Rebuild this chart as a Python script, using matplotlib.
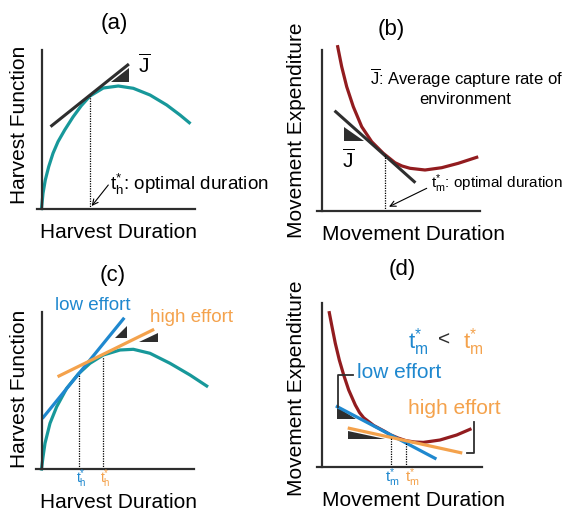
import matplotlib
matplotlib.use("Agg")
import matplotlib.pyplot as plt

plt.rcParams['font.family'] = ['Liberation Sans', 'DejaVu Sans']
plt.rcParams['mathtext.fontset'] = 'custom'
plt.rcParams['mathtext.rm'] = 'Liberation Sans'
plt.rcParams['mathtext.it'] = 'Liberation Sans:italic'
plt.rcParams['mathtext.bf'] = 'Liberation Sans:bold'
plt.rcParams['lines.solid_joinstyle'] = 'round'

TEAL = '#17989a'
RED = '#921c1f'
BLUE = '#1f88cf'
ORANGE = '#f4a24c'
DARK = '#2e2e2e'

# ---- panel (a): harvest function, one tangent
a_dur = [0, 1.5, 3.8, 7.2, 11.5, 16.5, 23.2, 31.5, 39.8, 48.5, 61.8, 76.8, 91.8, 108.5, 125.2, 138.5, 147.8]
a_harv = [0, 15.2, 28.5, 41.8, 55.2, 66.8, 78.5, 91.5, 102.8, 112.5, 120.5, 122.5, 120.2, 113.5, 103.5, 93.5, 85.8]
a_tan_x = [10.2, 86.2]
a_tan_y = [82.8, 143.5]
a_tri_x = [69.5, 87.5, 87.5]
a_tri_y = [126.8, 126.8, 140.8]
a_opt = (48.5, 113)

# ---- panel (b): movement expenditure, one tangent
b_dur = [16.2, 20.2, 25.2, 31.8, 40.2, 50.2, 61.8, 73.5, 80.5, 88.5, 103.5, 120.2, 136.8, 155.2]
b_cost = [163.8, 143.8, 123.8, 103.8, 83.8, 68.8, 57.2, 47.8, 44.5, 42.2, 40.5, 42.8, 47.2, 53.2]
b_tan_x = [14.2, 92.8]
b_tan_y = [98.8, 28.8]
b_tri_x = [22.8, 22.8, 42.8]
b_tri_y = [83.2, 69.8, 69.8]
b_opt = (63.5, 55.5)

# ---- panel (c): harvest function, low vs high effort
c_dur = [0, 1.5, 3.5, 8.5, 15.2, 25.2, 36.8, 48.5, 61.8, 78.5, 91.8, 108.5, 128.5, 148.5, 165.2]
c_harv = [0, 12, 25.7, 45.7, 62.3, 80.7, 95, 105.7, 114, 119, 119.7, 115.7, 105.7, 94, 83]
c_low_x = [1.8, 81.8]
c_low_y = [51.7, 150]
c_high_x = [17.5, 111.2]
c_high_y = [93, 139]
c_tri_low_x = [73.5, 85.2, 85.2]
c_tri_low_y = [131.3, 131.3, 143]
c_tri_high_x = [97.8, 116.2, 116.2]
c_tri_high_y = [126.7, 126.7, 135.7]
c_opt_low = (37.8, 94)
c_opt_high = (61.8, 112.3)

# ---- panel (d): movement expenditure, low vs high effort
d_dur = [7.8, 10.5, 13.8, 17.8, 22.2, 27.2, 33.8, 38, 42.2, 52.2, 62.5, 69.2, 76.5, 84.5, 93,
         101.8, 118.5, 135.2, 148.5]
d_cost = [154.3, 140.3, 123.7, 107, 92, 77, 62, 54.5, 49.2, 41.5, 36, 32.1, 29, 26.3, 25,
          24.6, 27, 32, 37.7]
d_low_x = [15.8, 113.5]
d_low_y = [60.3, 8.7]
d_high_x = [27.8, 139.2]
d_high_y = [38.7, 14.3]
d_tri_low_x = [15.2, 15.2, 34.5]
d_tri_low_y = [60.3, 47.7, 47.7]
d_tri_high_x = [26.8, 26.8, 63.5]
d_tri_high_y = [36.3, 27.7, 27.7]
d_opt_low = (69.2, 30)
d_opt_high = (84.5, 25.3)
d_brk_low_x = [31.5, 16.8, 16.8]
d_brk_low_y = [92, 92, 60.3]
d_brk_high_x = [152.5, 152.5, 145.2]
d_brk_high_y = [45.3, 14.3, 14.3]

W, H = 569, 515
fig = plt.figure(figsize=(W / 100, H / 100), dpi=100)


def add_panel(ox, oy, xmax, ymax, over):
    ax = fig.add_axes([(ox - over) / W, (H - oy) / H, (xmax + over) / W, ymax / H])
    ax.set_xlim(-over, xmax)
    ax.set_ylim(0, ymax)
    ax.spines[['top', 'right']].set_visible(False)
    ax.spines['left'].set_position(('data', 0))
    for s in ('left', 'bottom'):
        ax.spines[s].set_linewidth(1.6)
        ax.spines[s].set_color(DARK)
    ax.set_xticks([])
    ax.set_yticks([])
    ax.patch.set_alpha(0)
    return ax


def ftext(px, py, s, **kw):
    fig.text(px / W, 1 - py / H, s, **kw)


def dotted(ax, pt):
    ax.plot([pt[0], pt[0]], [0, pt[1]], ls=(0, (1, 1)), lw=0.9, color='black', clip_on=False)


def tri(ax, xs, ys):
    ax.fill(xs, ys, color=DARK, lw=0, clip_on=False)


JBAR = r'$\overline{\mathrm{J}}$'

# (a)
ax = add_panel(41.5, 208.5, 153.5, 158.5, 4.8)
ax.plot(a_dur, a_harv, color=TEAL, lw=2.3, clip_on=False)
ax.plot(a_tan_x, a_tan_y, color=DARK, lw=2.2, clip_on=False)
tri(ax, a_tri_x, a_tri_y)
dotted(ax, a_opt)
ax.annotate('', xy=(50.2, 2.5), xytext=(66.8, 23.5),
            arrowprops=dict(arrowstyle='->', lw=0.8, color='black', shrinkA=0, shrinkB=0))
ftext(114, 23, '(a)', fontsize=16, ha='center', va='center')
ftext(20, 125, 'Harvest Function', fontsize=15, rotation=90, ha='center', va='center')
ftext(118, 232, 'Harvest Duration', fontsize=15, ha='center', va='center')
ftext(144, 65, JBAR, fontsize=15, ha='center', va='center')
ftext(110, 184, r'$\mathrm{t}^{*}_{\mathrm{h}}$: optimal duration', fontsize=13.6, ha='left', va='center')

# (b)
ax = add_panel(321.5, 210.5, 158.5, 160.5, 4.5)
ax.plot(b_dur, b_cost, color=RED, lw=2.3, clip_on=False)
ax.plot(b_tan_x, b_tan_y, color=DARK, lw=2.2, clip_on=False)
tri(ax, b_tri_x, b_tri_y)
dotted(ax, b_opt)
ax.annotate('', xy=(67.5, 3.8), xytext=(105.2, 22.2),
            arrowprops=dict(arrowstyle='->', lw=0.8, color='black', shrinkA=0, shrinkB=0))
ftext(391, 30, '(b)', fontsize=16, ha='center', va='center')
ftext(297, 130, 'Movement Expenditure', fontsize=15, rotation=90, ha='center', va='center')
ftext(413.5, 235, 'Movement Duration', fontsize=15, ha='center', va='center')
ftext(348, 160, JBAR, fontsize=15, ha='center', va='center')
ftext(370, 78, JBAR + ': Average capture rate of', fontsize=12, ha='left', va='center')
ftext(465, 99, 'environment', fontsize=12, ha='center', va='center')
ftext(431, 184, r'$\mathrm{t}^{*}_{\mathrm{m}}$: optimal duration', fontsize=11, ha='left', va='center')

# (c)
ax = add_panel(41.5, 469, 152.5, 157.3, 5.5)
ax.plot(c_dur, c_harv, color=TEAL, lw=2.3, clip_on=False)
ax.plot(c_low_x, c_low_y, color=BLUE, lw=2.3, clip_on=False)
ax.plot(c_high_x, c_high_y, color=ORANGE, lw=2.3, clip_on=False)
tri(ax, c_tri_low_x, c_tri_low_y)
tri(ax, c_tri_high_x, c_tri_high_y)
dotted(ax, c_opt_low)
dotted(ax, c_opt_high)
ftext(113, 275, '(c)', fontsize=16, ha='center', va='center')
ftext(20, 389, 'Harvest Function', fontsize=15, rotation=90, ha='center', va='center')
ftext(118, 502, 'Harvest Duration', fontsize=15, ha='center', va='center')
ftext(55, 305, 'low effort', fontsize=13.5, color=BLUE, ha='left', va='center')
ftext(150, 318, 'high effort', fontsize=13.5, color=ORANGE, ha='left', va='center')
ftext(81, 479, r'$\mathrm{t}^{*}_{\mathrm{h}}$', fontsize=10, color=BLUE, ha='center', va='center')
ftext(105, 479, r'$\mathrm{t}^{*}_{\mathrm{h}}$', fontsize=10, color=ORANGE, ha='center', va='center')

# (d)
ax = add_panel(321.5, 467, 160.2, 163.7, 4.5)
ax.plot(d_dur, d_cost, color=RED, lw=2.3, clip_on=False)
ax.plot(d_low_x, d_low_y, color=BLUE, lw=2.3, clip_on=False)
ax.plot(d_high_x, d_high_y, color=ORANGE, lw=2.3, clip_on=False)
tri(ax, d_tri_low_x, d_tri_low_y)
tri(ax, d_tri_high_x, d_tri_high_y)
dotted(ax, d_opt_low)
dotted(ax, d_opt_high)
ax.plot(d_brk_low_x, d_brk_low_y, color=DARK, lw=1.3, clip_on=False)
ax.plot(d_brk_high_x, d_brk_high_y, color=DARK, lw=1.3, clip_on=False)
ftext(402, 270, '(d)', fontsize=16, ha='center', va='center')
ftext(297, 388, 'Movement Expenditure', fontsize=15, rotation=90, ha='center', va='center')
ftext(414, 500, 'Movement Duration', fontsize=15, ha='center', va='center')
ftext(357, 373, 'low effort', fontsize=15, color=BLUE, ha='left', va='center')
ftext(408, 409, 'high effort', fontsize=15, color=ORANGE, ha='left', va='center')
ftext(408, 342, r'$\mathrm{t}^{*}_{\mathrm{m}}$', fontsize=16, color=BLUE, ha='left', va='center')
ftext(444, 340, '<', fontsize=15, color=DARK, ha='center', va='center')
ftext(463, 342, r'$\mathrm{t}^{*}_{\mathrm{m}}$', fontsize=16, color=ORANGE, ha='left', va='center')
ftext(392, 478, r'$\mathrm{t}^{*}_{\mathrm{m}}$', fontsize=11, color=BLUE, ha='center', va='center')
ftext(412, 478, r'$\mathrm{t}^{*}_{\mathrm{m}}$', fontsize=11, color=ORANGE, ha='center', va='center')

fig.savefig('out.png', dpi=100)
